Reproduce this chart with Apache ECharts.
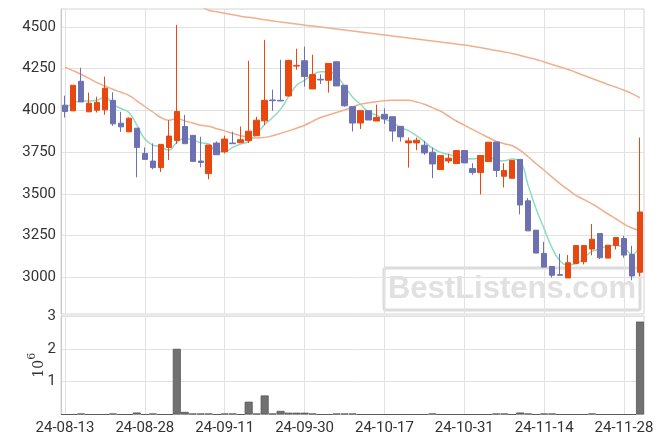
<!DOCTYPE html>
<html><head><meta charset="utf-8">
<script src="https://cdn.jsdelivr.net/npm/echarts@6/dist/echarts.min.js"></script>
<style>html,body{margin:0;padding:0;background:#fff}#c{width:663px;height:444px}</style>
</head><body><div id="c"></div>
<script>
const dates = ['24-08-13','24-08-14','24-08-16','24-08-19','24-08-20','24-08-21','24-08-22','24-08-23','24-08-26','24-08-27',
'24-08-28','24-08-29','24-08-30','24-09-02','24-09-03','24-09-04','24-09-05','24-09-06','24-09-09','24-09-10',
'24-09-11','24-09-12','24-09-13','24-09-19','24-09-20','24-09-23','24-09-24','24-09-25','24-09-26','24-09-27',
'24-09-30','24-10-02','24-10-04','24-10-07','24-10-08','24-10-10','24-10-11','24-10-14','24-10-15','24-10-16',
'24-10-17','24-10-18','24-10-21','24-10-22','24-10-23','24-10-24','24-10-25','24-10-28','24-10-29','24-10-30',
'24-10-31','24-11-01','24-11-04','24-11-05','24-11-06','24-11-07','24-11-08','24-11-11','24-11-12','24-11-13',
'24-11-14','24-11-15','24-11-18','24-11-19','24-11-20','24-11-21','24-11-22','24-11-25','24-11-26','24-11-27',
'24-11-28','24-11-29','24-12-02'];

const openP = [4031,3997,4174,3991,4001,4003,4060,3923,3871,3893,
3742,3696,3657,3778,3820,3903,3850,3696,3621,3804,
3752,3804,3806,3818,3848,3937,4062,4060,4086,4265,
4297,4128,4186,4180,4291,4150,4022,3924,3998,3936,
3976,3962,3904,3805,3805,3791,3749,3645,3697,3681,
3759,3651,3627,3693,3810,3605,3593,3706,3458,3282,
3143,3065,3016,2996,3083,3093,3169,3262,3115,3190,
3232,3137,3030];
const closeP = [3993,4150,4050,4043,4048,4132,3919,3901,3953,3778,
3706,3657,3796,3846,3993,3800,3694,3688,3792,3734,
3828,3800,3824,3875,3941,4060,4058,4056,4299,4269,
4202,4214,4182,4281,4146,4027,3924,3998,3942,3958,
3948,3876,3841,3817,3821,3745,3679,3729,3713,3759,
3685,3627,3729,3809,3640,3639,3700,3433,3278,3145,
3061,3012,3012,3087,3190,3190,3228,3117,3192,3238,
3133,3008,3391];
const lowP = [3957,3997,4050,3991,3987,3973,3907,3871,3871,3599,
3706,3647,3631,3702,3798,3800,3694,3659,3587,3734,
3742,3800,3806,3804,3848,3911,3997,4056,4086,4243,
4142,4128,4158,4106,4146,4021,3873,3888,3942,3936,
3918,3813,3813,3657,3761,3733,3594,3645,3683,3681,
3685,3614,3496,3693,3600,3538,3593,3377,3278,3145,
3061,2998,3012,2996,3083,3077,3131,3109,3115,3167,
3117,2982,3006];
const highP = [4088,4150,4255,4106,4082,4202,4108,3991,3958,3893,
3778,3802,3796,3941,4512,3973,3852,3842,3792,3814,
3848,3872,3903,4297,3961,4422,4124,4303,4303,4369,
4381,4333,4216,4281,4291,4150,4022,3998,3998,4034,
4012,3962,3904,3837,3837,3817,3777,3729,3741,3759,
3759,3683,3729,3809,3810,3683,3700,3706,3474,3282,
3212,3065,3141,3133,3190,3190,3319,3262,3192,3238,
3248,3188,3837];

const ma5 = [4007,4043,4056,4056,4060,4080,4037,4011,3987,3911,
3828,3792,3782,3762,3808,3832,3822,3806,3798,3752,
3752,3778,3798,3812,3858,3915,3957,4007,4082,4150,
4180,4212,4231,4231,4206,4145,4080,4036,3990,3971,
3948,3928,3898,3878,3848,3813,3773,3749,3735,3725,
3715,3709,3717,3729,3698,3698,3708,3692,3550,3409,
3290,3175,3097,3075,3081,3117,3155,3171,3188,3192,
3177,3137,3192];
const ma20 = [4259,4238,4216,4191,4166,4146,4126,4108,4090,4057,
4023,3990,3957,3941,3951,3937,3924,3911,3905,3890,
3877,3862,3848,3840,3834,3838,3848,3862,3877,3893,
3911,3934,3957,3972,3987,4002,4020,4036,4045,4052,
4057,4060,4060,4060,4050,4036,4016,3996,3966,3936,
3911,3886,3862,3837,3815,3800,3788,3760,3722,3680,
3641,3600,3560,3525,3490,3465,3440,3410,3379,3350,
3319,3295,3280];
const ma60 = [null,null,null,null,null,null,null,null,null,null,
null,null,null,null,null,null,null,4625,4600,4591,
4582,4573,4564,4557,4550,4542,4535,4529,4523,4517,
4510,4505,4499,4493,4487,4481,4475,4469,4463,4457,
4451,4445,4439,4433,4427,4421,4415,4409,4403,4397,
4391,4384,4376,4367,4358,4350,4341,4329,4317,4305,
4290,4275,4260,4245,4227,4209,4191,4173,4155,4138,
4120,4100,4075];
const volume = [0,0,30000,0,0,0,30000,0,0,60000,
0,30000,0,0,2000000,80000,30000,30000,30000,0,
30000,30000,0,390000,30000,580000,30000,110000,55000,55000,
55000,30000,0,0,30000,30000,30000,0,0,0,
0,0,0,0,0,0,30000,0,0,0,
0,0,0,0,30000,30000,0,60000,30000,0,
30000,30000,0,0,0,0,30000,0,0,0,
0,0,2830000];
const priceTicks = [3000,3250,3500,3750,4000,4250,4500];

const UP = '#E8470F', DOWN = '#6D71B2';
const candleData = dates.map((d,i)=>[openP[i],closeP[i],lowP[i],highP[i]]);
const font = 'Roboto';
const chart = echarts.init(document.getElementById('c'), null, {renderer:'canvas'});
chart.setOption({
  animation:false,
  backgroundColor:'#ffffff',
  grid:[
    {left:61, right:19, top:9, height:305, show:true, borderColor:'#d4d4d4', borderWidth:1},
    {left:61, right:19, top:316, height:98.5, show:true, borderColor:'#d4d4d4', borderWidth:1}
  ],
  xAxis:[
    {type:'category', gridIndex:0, data:dates, boundaryGap:true,
     axisLine:{show:false}, axisTick:{show:false}, axisLabel:{show:false},
     splitLine:{show:true, interval:9, alignWithLabel:true, lineStyle:{color:'#e2e2e2', width:1}}},
    {type:'category', gridIndex:1, data:dates, boundaryGap:true,
     axisLine:{show:false}, axisTick:{show:false},
     axisLabel:{show:true, interval:9, color:'#333', fontFamily:font, fontSize:15, margin:6},
     splitLine:{show:true, interval:9, alignWithLabel:true, lineStyle:{color:'#e2e2e2', width:1}}}
  ],
  yAxis:[
    {type:'value', gridIndex:0, min:2780, max:4607, scale:true,
     axisLine:{show:true, lineStyle:{color:'#c8c8c8'}},
     axisTick:{show:false, customValues:priceTicks},
     axisLabel:{customValues:priceTicks, color:'#333', fontFamily:font, fontSize:15, margin:5,
       formatter:v=>String(v)},
     splitLine:{show:true, lineStyle:{color:'#e2e2e2', width:1}}},
    {type:'value', gridIndex:1, min:0, max:3000000, interval:1000000,
     name:'{a|10}{b|6}', nameLocation:'middle', nameRotate:90, nameGap:15, nameMoveOverlap:false,
     nameTextStyle:{color:'#333', rich:{
       a:{fontFamily:'DejaVu Serif', fontSize:14, color:'#333', verticalAlign:'bottom'},
       b:{fontFamily:'DejaVu Serif', fontSize:11, color:'#333', verticalAlign:'top', padding:[0,0,8,0]}}},
     axisLine:{show:true, lineStyle:{color:'#c8c8c8'}},
     axisTick:{show:false},
     axisLabel:{color:'#333', fontFamily:font, fontSize:15, margin:5,
       formatter:v=> v===0 ? '' : String(v/1000000)},
     splitLine:{show:true, lineStyle:{color:'#e2e2e2', width:1}}}
  ],
  graphic:[
    {type:'group', z:1, children:[
      {type:'rect', shape:{x:384, y:268, width:256, height:42, r:2},
       style:{fill:'rgba(255,255,255,0.85)', stroke:'#dcdcdc', lineWidth:3}},
      {type:'text', x:512, y:289, style:{text:'BestListens.com', fill:'#e1e1e1',
       font:'bold 31px "Liberation Sans", Arial, sans-serif', textAlign:'center', textVerticalAlign:'middle'}}
    ]}
  ],
  series:[
    {type:'line', xAxisIndex:0, yAxisIndex:0, data:ma60, smooth:true, symbol:'none', z:3,
     lineStyle:{color:'#F0B08E', width:1.5}},
    {type:'line', xAxisIndex:0, yAxisIndex:0, data:ma20, smooth:true, symbol:'none', z:3,
     lineStyle:{color:'#F0AE8C', width:1.5}},
    {type:'line', xAxisIndex:0, yAxisIndex:0, data:ma5, smooth:true, symbol:'none', z:3,
     lineStyle:{color:'#8FDCC2', width:1.5}},
    {type:'candlestick', xAxisIndex:0, yAxisIndex:0, data:candleData, barWidth:6, z:4,
     itemStyle:{color:UP, color0:DOWN, borderColor:UP, borderColor0:DOWN, borderWidth:1}},
    {type:'bar', xAxisIndex:1, yAxisIndex:1, data:volume, barWidth:8,
     itemStyle:{color:'#717171', borderColor:'#555', borderWidth:0.8}}
  ]
});
</script></body></html>
